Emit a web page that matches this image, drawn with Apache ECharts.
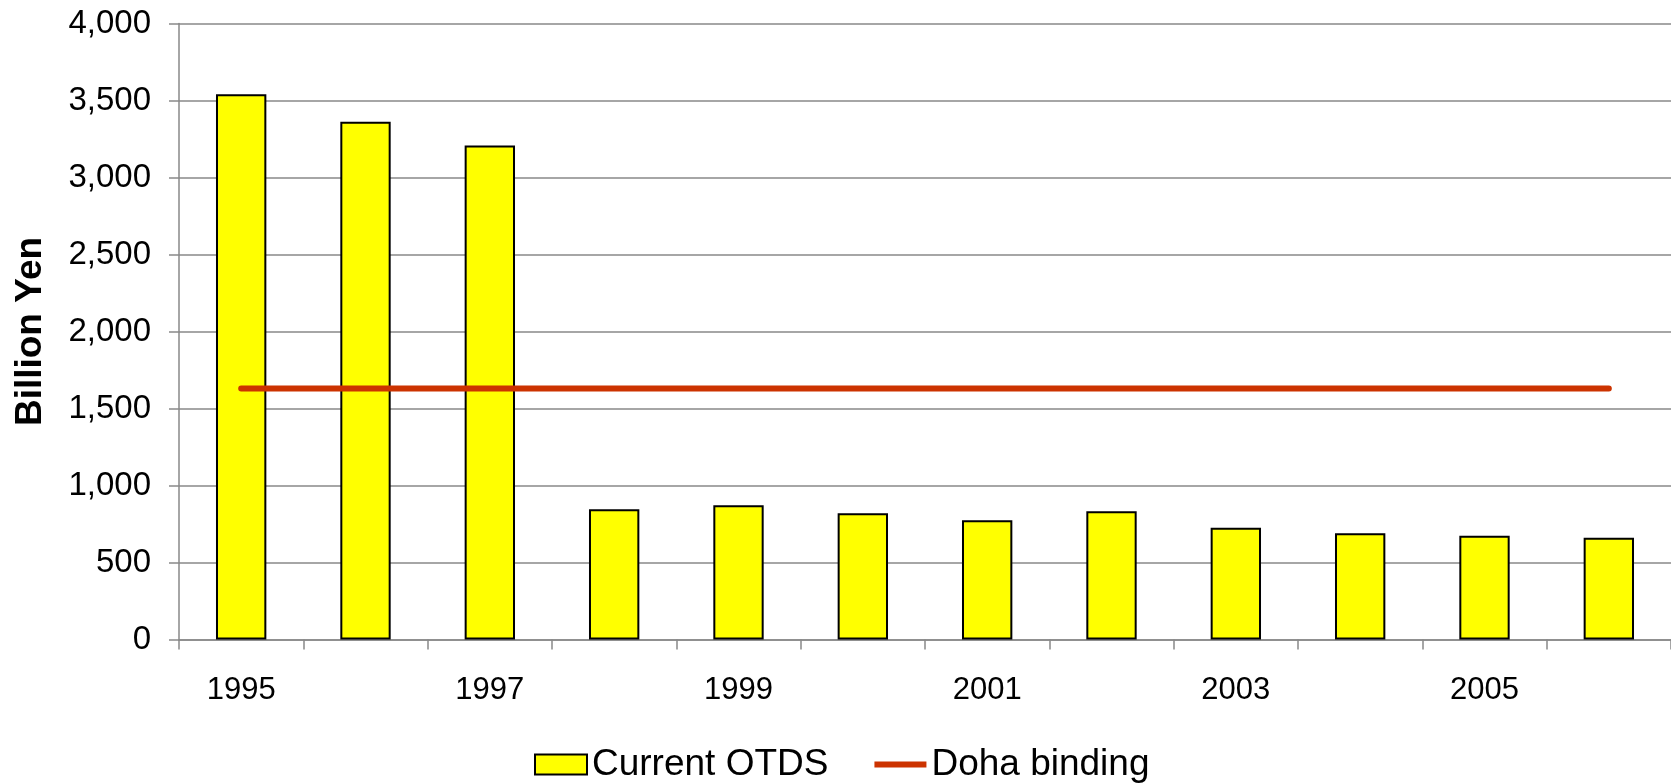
<!DOCTYPE html>
<html>
	<head>
		<meta charset="utf-8">
		<title>ECharts</title>
		<script src="https://cdn.jsdelivr.net/npm/echarts@6/dist/echarts.min.js"></script>
		<style>
			html, body { margin: 0; padding: 0; background: #fff; }
		</style>
	</head>
	<body>
		<div id="main" style="width: 1671px;height: 783px;"></div>
		<script type="text/javascript">
			// data
			var years = ['1995', '1996', '1997', '1998', '1999', '2000', '2001', '2002', '2003', '2004', '2005', '2006'];
			var currentOtds = [3540, 3362, 3207, 846, 871, 820, 775, 832, 725, 690, 673, 660];
			var dohaBinding = [1630, 1630, 1630, 1630, 1630, 1630, 1630, 1630, 1630, 1630, 1630, 1630];

			var myChart = echarts.init(document.getElementById('main'));
			var gray = '#898989';
			var font = 'Liberation Sans, Arial, sans-serif';
			// flat red bar for the line entry of the legend (bounding box 52x20)
			var lineIcon = 'path://M0,0 L0.01,0 M0,7 L52,7 L52,13 L0,13 Z M52,20 L51.99,20';

			var option = {
				animation: false,
				textStyle: { fontFamily: font },
				grid: {
					left: 179,
					top: 23.5,
					width: 1495,
					height: 616
				},
				legend: {
					left: 534,
					top: 746,
					padding: 0,
					itemWidth: 52,
					itemHeight: 20,
					itemGap: 46,
					textStyle: { fontSize: 37, color: '#000', fontFamily: font },
					data: [
						{ name: 'Current OTDS', icon: 'rect' },
						{ name: 'Doha binding', icon: lineIcon }
					]
				},
				xAxis: {
					type: 'category',
					data: years,
					axisLine: { show: true, lineStyle: { color: gray, width: 1.5 } },
					axisTick: { show: true, inside: false, length: 10, interval: 0, lineStyle: { color: gray, width: 1.5 } },
					axisLabel: { interval: 1, margin: 35, fontSize: 31, color: '#000' }
				},
				yAxis: [{
					type: 'value',
					min: 0,
					max: 4000,
					interval: 500,
					name: 'Billion Yen',
					nameLocation: 'middle',
					nameGap: 130,
					nameTextStyle: { fontSize: 37, fontWeight: 'bold', color: '#000' },
					axisLine: { show: true, onZero: false, lineStyle: { color: gray, width: 1.5 } },
					axisTick: { show: true, inside: false, length: 10, lineStyle: { color: gray, width: 1.5 } },
					splitLine: { show: true, lineStyle: { color: gray, width: 1.5 } },
					axisLabel: {
						margin: 28,
						fontSize: 33,
						color: '#000',
						formatter: function (v) { return v.toLocaleString('en-US'); }
					}
				}, {
					// second copy of the scale, only to draw the outside tick marks
					type: 'value',
					position: 'left',
					offset: 0,
					min: 0,
					max: 4000,
					interval: 500,
					axisLine: { show: false },
					axisTick: { show: true, inside: false, length: 10, lineStyle: { color: gray, width: 1.5 } },
					axisLabel: { show: false },
					splitLine: { show: false }
				}],
				series: [{
					name: 'Current OTDS',
					type: 'bar',
					data: currentOtds,
					barWidth: '40.5%',
					itemStyle: { color: '#ffff00', borderColor: '#000', borderWidth: 2 }
				}, {
					name: 'Doha binding',
					type: 'line',
					data: dohaBinding,
					symbol: 'none',
					itemStyle: { color: '#cc3300' },
					lineStyle: { color: '#cc3300', width: 6, cap: 'round' }
				}]
			};
			myChart.setOption(option);
		</script>
	</body>
</html>
